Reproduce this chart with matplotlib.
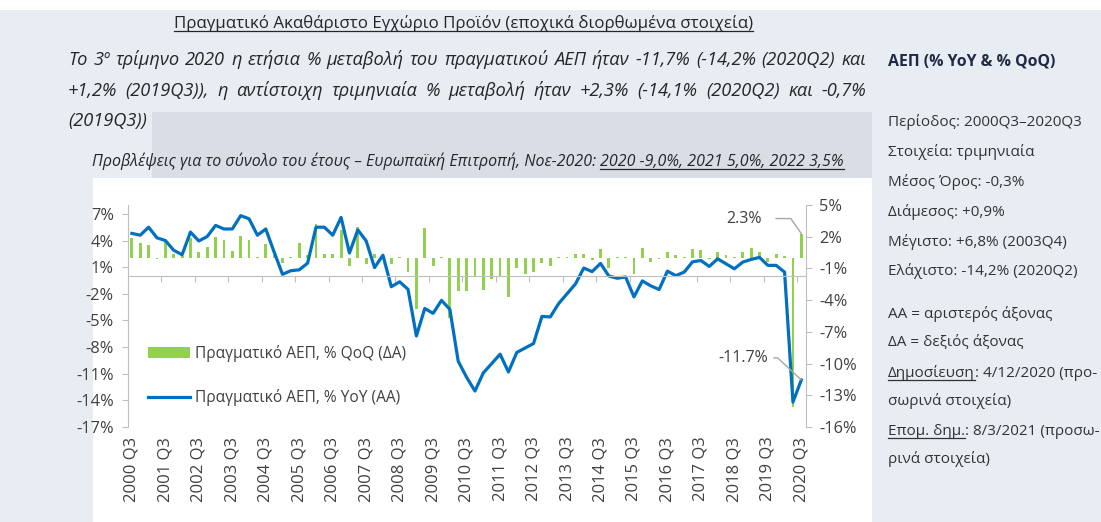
import numpy as np
import matplotlib
matplotlib.use("Agg")
import matplotlib.pyplot as plt
from matplotlib.patches import Rectangle
from matplotlib.lines import Line2D

plt.rcParams['font.family'] = ['Open Sans', 'DejaVu Sans']
plt.rcParams['axes.unicode_minus'] = False

W, H = 1101, 522

# quarters 2000Q3 ... 2020Q3, labels every 4th quarter
tick_labels = [f"{y} Q3" for y in range(2000, 2021)]

# real GDP, % change year on year (left axis)
yoy = [4.8, 4.6, 5.5, 4.3, 4.0, 2.9, 2.4, 4.95, 3.95, 4.45,
       5.7, 5.3, 5.3, 6.8, 6.45, 4.6, 5.3, 2.7, 0.2, 0.6,
       0.7, 1.45, 5.5, 5.5, 4.6, 6.6, 2.6, 5.2, 3.95, 0.95,
       2.35, -1.2, -0.65, -1.5, -6.75, -3.65, -4.2, -2.74, -3.75, -9.6,
       -11.4, -12.95, -10.9, -9.86, -8.8, -10.8, -8.6, -8.1, -7.6, -4.55,
       -4.6, -3.1, -2.0, -0.9, 0.9, 0.5, 1.42, 0.0, -0.25, -0.1,
       -2.35, -0.55, -1.1, -1.52, 0.55, 0.05, 0.44, 1.6, 1.75, 1.08,
       1.94, 1.38, 0.82, 1.57, 1.87, 2.1, 1.2, 1.2, 0.44, -14.2,
       -11.7]

# real GDP, % change quarter on quarter (right axis)
qoq = [1.85, 1.4, 1.2, -0.15, 1.5, 0.35, 0.2, 1.9, 0.6, 1.0,
       2.0, 1.7, 0.65, 2.1, 1.7, 0.05, 1.3, 0.3, -0.5, 0.1,
       1.4, 0.3, 3.2, 0.35, 0.4, 2.6, -0.8, 2.9, -0.6, 0.4,
       0.2, -0.6, 0.05, -1.35, -4.8, 2.8, -0.75, 0.1, -5.7, -3.1,
       -3.1, -1.8, -3.0, -2.0, -1.8, -3.7, -0.95, -1.5, -1.3, -0.5,
       -0.8, 0.05, 0.05, 0.4, 0.4, -0.2, 0.8, -0.95, 0.1, 0.05,
       -1.5, 0.9, -0.35, -0.15, 0.55, 0.3, 0.05, 0.8, 0.75, -0.1,
       0.6, 0.25, 0.1, 0.55, 0.9, 0.55, -0.4, 0.4, 0.15, -14.1,
       2.3]

title = "Πραγματικό Ακαθάριστο Εγχώριο Προϊόν (εποχικά διορθωμένα στοιχεία)"
para = ["Το 3º τρίμηνο 2020 η ετήσια % μεταβολή του πραγματικού ΑΕΠ ήταν -11,7% (-14,2% (2020Q2) και",
        "+1,2% (2019Q3)), η αντίστοιχη τριμηνιαία % μεταβολή ήταν +2,3% (-14,1% (2020Q2) και -0,7%",
        "(2019Q3))"]
forecast_a = "Προβλέψεις για το σύνολο του έτους – Ευρωπαϊκή Επιτροπή, Νοε-2020: "
forecast_b = "2020 -9,0%, 2021 5,0%, 2022 3,5%"
side_head = "ΑΕΠ (% YoY & % QoQ)"
side_lines = [("Περίοδος: 2000Q3–2020Q3", 126), ("Στοιχεία: τριμηνιαία", 156),
              ("Μέσος Όρος: -0,3%", 186), ("Διάμεσος: +0,9%", 216),
              ("Μέγιστο: +6,8% (2003Q4)", 246), ("Ελάχιστο: -14,2% (2020Q2)", 275),
              ("ΑΑ = αριστερός άξονας", 318), ("ΔΑ = δεξιός άξονας", 346)]
legend_labels = ["Πραγματικό ΑΕΠ, % QoQ (ΔΑ)", "Πραγματικό ΑΕΠ, % YoY (ΑΑ)"]

BG = '#E8EDF3'
BOX = '#D9DEE6'
GREEN = '#92D050'
BLUE = '#0070C0'
AXC = '#BFBFBF'
TXT = '#404040'
DARK = '#262626'
SIDE = '#333333'

fig = plt.figure(figsize=(W / 100, H / 100), dpi=100)
fig.patch.set_facecolor(BG)
r = fig.canvas.get_renderer()


def fp(x, y):
    return x / W, 1 - y / H


def rect(x0, y0, x1, y1, color):
    fig.add_artist(Rectangle(fp(x0, y1), (x1 - x0) / W, (y1 - y0) / H,
                             transform=fig.transFigure, color=color, lw=0, zorder=-5))


def text(x, y, s, size, **kw):
    kw.setdefault('color', DARK)
    return fig.text(*fp(x, y), s, fontsize=size, va='baseline', **kw)


def width(t):
    return t.get_window_extent(r).width


def fit(s, target, size=12, **kw):
    t = fig.text(0, 0, s, fontsize=size, **kw)
    w = width(t)
    t.remove()
    return size * target / w


def underline(t, off=3, color=DARK):
    bb = t.get_window_extent(r)
    y = t.get_position()[1] * H - off
    fig.add_artist(Line2D([bb.x0 / W, bb.x1 / W], [y / H, y / H], lw=0.9,
                          color=color, transform=fig.transFigure))


def justify(line, x0, x1, y, size, **kw):
    ts = [text(x0, y, w, size, **kw) for w in line.split()]
    ws = [width(t) for t in ts]
    gap = (x1 - x0 - sum(ws)) / (len(ts) - 1)
    x = x0
    for t, w in zip(ts, ws):
        t.set_x(x / W)
        x += w + gap


# page background blocks
rect(0, 0, W, 10, 'white')
rect(152, 112, 872, 178, BOX)
rect(93, 178, 872, H, 'white')

# header texts
t = text(463.5, 28, title, fit(title, 577), ha='center')
underline(t)

ps = fit(para[0], 798 * 0.98, style='italic')
justify(para[0], 68, 866, 65, ps, style='italic')
justify(para[1], 68, 866, 96, ps, style='italic')
text(68, 126, para[2], ps, style='italic')

fs = fit(forecast_a + forecast_b, 751, style='italic')
ta = text(92, 166, forecast_a, fs, style='italic')
tb = text(92 + width(ta), 166, forecast_b, fs, style='italic')
underline(tb)

# side panel
text(888, 66, side_head, fit(side_head, 167, weight='bold'), weight='bold', color='#1F2A44')
ss = fit("Δημοσίευση: 4/12/2020 (προ-", 208)
for s, y in side_lines:
    text(888, y, s, ss, color=SIDE)
t1 = text(888, 377, "Δημοσίευση", ss, color=SIDE)
underline(t1, color=SIDE)
text(888 + width(t1), 377, ": 4/12/2020 (προ-", ss, color=SIDE)
text(888, 405, "σωρινά στοιχεία)", ss, color=SIDE)
t2 = text(888, 435, "Επομ. δημ.", ss, color=SIDE)
underline(t2, color=SIDE)
text(888 + width(t2), 435, ": 8/3/2021 (προσω-", ss, color=SIDE)
text(888, 463, "ρινά στοιχεία)", ss, color=SIDE)

# chart
x = np.arange(len(yoy))
ax = fig.add_axes([127.7 / W, 1 - 427 / H, (805.5 - 127.7) / W, 222 / H])
ax2 = ax.twinx()
bars = ax2.bar(x, qoq, width=0.34, color=GREEN)
line, = ax.plot(x, yoy, color=BLUE, lw=2.3, solid_joinstyle='round')
ax.set_zorder(ax2.get_zorder() + 1)
ax.patch.set_visible(False)

ax.set_xlim(-0.5, len(yoy) - 0.5)
ax.set_ylim(-17, 8)
lt = np.arange(-17, 8, 3)
ax.set_yticks(lt, [f"{v}%" for v in lt])
ax2.set_ylim(-16, 5)
rt = np.arange(-16, 6, 3)
ax2.set_yticks(rt, [f"{v}%" for v in rt])

for a in (ax, ax2):
    for s in a.spines.values():
        s.set_visible(False)
        s.set_color(AXC)
ax.spines['left'].set_visible(True)
ax.spines['bottom'].set_visible(True)
ax.spines['bottom'].set_position(('data', 0))
ax2.spines['right'].set_visible(True)

ax.tick_params(axis='y', length=4, color=AXC, labelcolor=TXT, labelsize=11.8, pad=6)
ax2.tick_params(axis='y', length=4, color=AXC, labelcolor=TXT, labelsize=11.8, pad=6)
ax.set_xticks(np.arange(3.5, len(yoy), 4), [])
ax.tick_params(axis='x', length=4, color=AXC)

sec = ax.secondary_xaxis('bottom')
sec.set_xticks(np.arange(0, len(yoy), 4), tick_labels, rotation=90)
sec.tick_params(length=0, pad=7, labelsize=12, labelcolor=TXT)
sec.spines['bottom'].set_visible(False)

leader = dict(arrowstyle='-', color='#A6A6A6', lw=1, shrinkB=0)
ax2.annotate("2.3%", xy=(x[-1], qoq[-1]), xytext=(-57, 15), textcoords='offset pixels',
             ha='center', va='center', fontsize=11.5, color=TXT,
             arrowprops=dict(leader, shrinkA=8, connectionstyle='angle,angleA=0,angleB=-55,rad=0'))
ax.annotate("-11.7%", xy=(x[-1], yoy[-1]), xytext=(-58, 22), textcoords='offset pixels',
            ha='center', va='center', fontsize=11.5, color=TXT,
            arrowprops=dict(leader, shrinkA=2, connectionstyle='angle,angleA=0,angleB=-43,rad=0'))

leg = ax.legend([bars, line], legend_labels, loc='center left',
                bbox_to_anchor=(148 / W, 1 - 375.5 / H), bbox_transform=fig.transFigure,
                frameon=False, fontsize=11.2, handlelength=2.7, handleheight=0.7,
                handletextpad=0.35, labelspacing=1.75, borderpad=0, borderaxespad=0)
for lt_ in leg.get_texts():
    lt_.set_color(TXT)

fig.savefig('out.png', dpi=100, facecolor=fig.get_facecolor())
